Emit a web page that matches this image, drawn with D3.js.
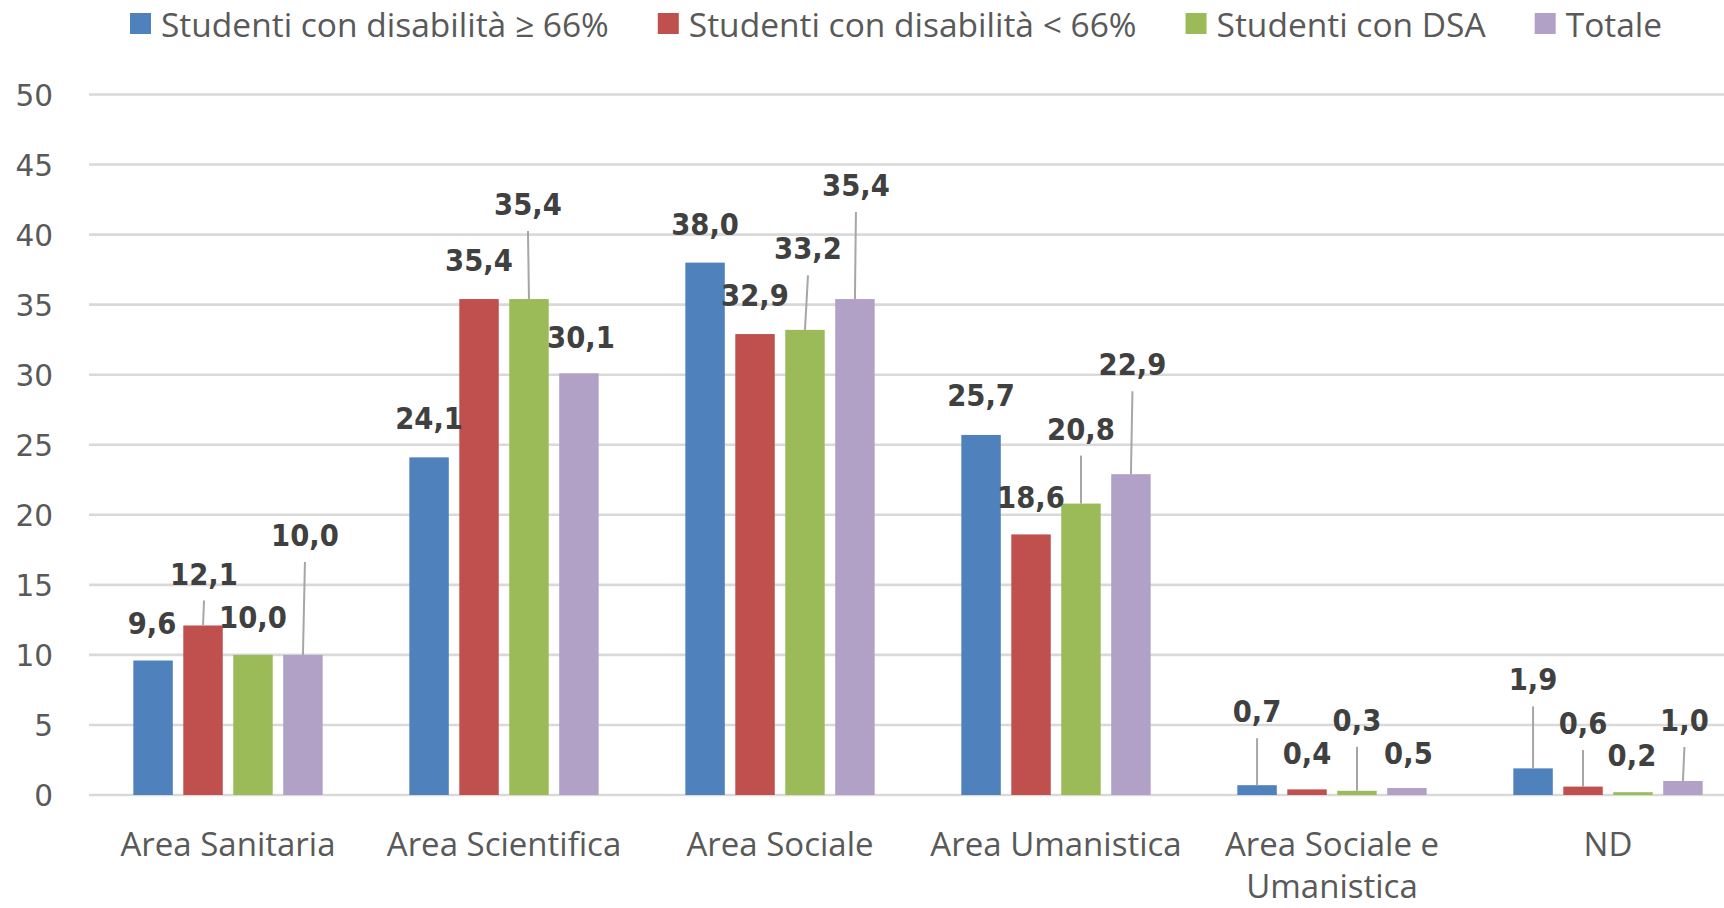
<!DOCTYPE html>
<html>
<head>
<meta charset="utf-8">
<script src="https://cdn.jsdelivr.net/npm/d3@7"></script>
<style>
  html, body { margin: 0; padding: 0; background: #ffffff; }
  svg { display: block; }
</style>
</head>
<body>
<script>
// ---- data ----
const categories = ["Area Sanitaria", "Area Scientifica", "Area Sociale", "Area Umanistica", "Area Sociale e Umanistica", "ND"];
const seriesNames = ["Studenti con disabilità ≥ 66%", "Studenti con disabilità < 66%", "Studenti con DSA", "Totale"];
const disabGe66 = [9.6, 24.1, 38.0, 25.7, 0.7, 1.9];
const disabLt66 = [12.1, 35.4, 32.9, 18.6, 0.4, 0.6];
const studDSA   = [10.0, 35.4, 33.2, 20.8, 0.3, 0.2];
const totale    = [10.0, 30.1, 35.4, 22.9, 0.5, 1.0];
const yTicks = [0, 5, 10, 15, 20, 25, 30, 35, 40, 45, 50];

// ---- styles / layout ----
const colors = ["#4F81BD", "#C0504D", "#9BBB59", "#B2A1C7"];
// label placement (px offset of label centre from bar-top centre), as laid out in the original
const labelShiftX = [[-1, 0, 0, 0, 0, 0], [1, 0, 0, 0, 0, 0], [0, -1, 3, 0, 0, -1], [2, 2, 1, 1.5, 1.5, 1.5]];
const labelShiftY = [[-38, -39, -39, -40, -74, -89], [-52, -39, -39, -37.5, -36, -63.5], [-38, -95, -81.5, -75, -71, -37], [-120, -36, -114, -110, -35, -61]];

const W = 1724, H = 908;
const plotLeft = 90, plotRight = 1746, yZero = 795, yTop = 94.5;

const values = [disabGe66, disabLt66, studDSA, totale];
const rows = [];
values.forEach((arr, s) => arr.forEach((v, c) => rows.push({ s, c, v, cat: categories[c], ser: seriesNames[s] })));

const svg = d3.select("body").append("svg").attr("width", W).attr("height", H);

const y = d3.scaleLinear().domain([0, 50]).range([yZero, yTop]);
const x0 = d3.scaleBand().domain(categories).range([plotLeft, plotRight]).paddingInner(0).paddingOuter(0);
const bw = x0.bandwidth();
const x1 = d3.scaleBand().domain(seriesNames).range([bw * 0.157, bw * 0.843]).paddingInner(0.21).paddingOuter(0);

// gridlines
svg.append("g").selectAll("line").data(yTicks).join("line")
  .attr("x1", plotLeft - 1).attr("x2", W)
  .attr("y1", d => y(d)).attr("y2", d => y(d))
  .attr("stroke", "#D9D9D9").attr("stroke-width", 2.6);

// y axis
const yAxis = svg.append("g").attr("transform", `translate(${plotLeft},0)`)
  .call(d3.axisLeft(y).tickValues(yTicks).tickSize(0).tickPadding(37).tickFormat(d3.format("d")));
yAxis.select(".domain").remove();
yAxis.selectAll("text")
  .attr("font-family", "'DejaVu Sans', Verdana, sans-serif")
  .attr("font-size", 29.5).attr("fill", "#595959").attr("dy", "0.36em");

// x axis
const xAxis = svg.append("g").attr("transform", `translate(0,${yZero})`)
  .call(d3.axisBottom(x0).tickSize(0).tickPadding(0));
xAxis.select(".domain").remove();
xAxis.selectAll("text")
  .attr("font-family", "'Open Sans', sans-serif")
  .attr("font-size", 33).attr("fill", "#595959").attr("dy", null).attr("y", 0)
  .each(function (d) {
    const t = d3.select(this);
    const words = d.split(" ");
    t.text(null);
    let line = [], lines = [];
    const tmp = t.append("tspan");
    words.forEach(w => {
      line.push(w);
      tmp.text(line.join(" "));
      if (tmp.node().getComputedTextLength() > 262 && line.length > 1) {
        line.pop(); lines.push(line.join(" ")); line = [w];
      }
    });
    lines.push(line.join(" "));
    tmp.remove();
    lines.forEach((l, i) => t.append("tspan").attr("x", 0).attr("y", 60.5 + i * 42.5).text(l));
  });

// bars
const groups = svg.append("g").selectAll("g").data(categories).join("g")
  .attr("transform", d => `translate(${x0(d)},0)`);
groups.selectAll("rect").data(c => rows.filter(r => r.cat === c)).join("rect")
  .attr("x", d => x1(d.ser)).attr("width", x1.bandwidth())
  .attr("y", d => y(d.v)).attr("height", d => y(0) - y(d.v))
  .attr("fill", d => colors[d.s]);

// data labels with leader lines
const fmt = v => d3.format(".1f")(v).replace(".", ",");
const lab = svg.append("g");
rows.forEach(d => {
  const bx = x0(d.cat) + x1(d.ser) + x1.bandwidth() / 2;
  const by = y(d.v);
  const lx = bx + labelShiftX[d.s][d.c];
  const ly = by + labelShiftY[d.s][d.c];
  if (labelShiftY[d.s][d.c] < -45) {
    lab.append("line").attr("x1", lx).attr("y1", ly + 27).attr("x2", bx).attr("y2", by)
      .attr("stroke", "#A6A6A6").attr("stroke-width", 2);
  }
  lab.append("text").attr("transform", `translate(${lx},${ly}) scale(1,1.12)`).attr("dy", "0.36em")
    .attr("text-anchor", "middle")
    .attr("font-family", "'DejaVu Sans', Verdana, sans-serif").attr("font-weight", "bold")
    .attr("font-size", 27.5).attr("fill", "#404040")
    .text(fmt(d.v));
});

// legend
const leg = svg.append("g");
let lxPos = 130;
seriesNames.forEach((n, i) => {
  leg.append("rect").attr("x", lxPos).attr("y", 13).attr("width", 21).attr("height", 21).attr("fill", colors[i]);
  const t = leg.append("text").attr("x", lxPos + 31).attr("y", 36.5)
    .attr("font-family", "'Open Sans', sans-serif").attr("font-size", 33.5).attr("fill", "#595959").text(n);
  lxPos += 31 + t.node().getComputedTextLength() + 49;
});
</script>
</body>
</html>
